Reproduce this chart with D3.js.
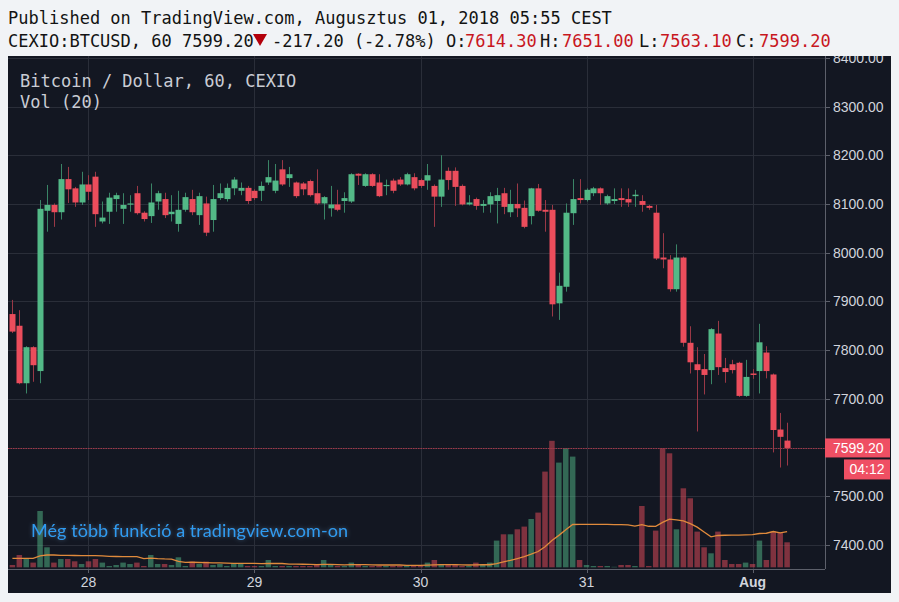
<!DOCTYPE html>
<html><head><meta charset="utf-8">
<script src="https://cdn.jsdelivr.net/npm/d3@7"></script>
<style>
html,body{margin:0;padding:0;background:#f1f3f6;}
svg{display:block;}
</style></head><body>
<svg id="c" width="899" height="602"></svg>
<script>
// ---- data (hourly bars, CEXIO BTC/USD, Jul 27 13:00 .. Aug 01 05:00 CEST) ----
const startTime = new Date(Date.UTC(2018, 6, 27, 13));
const endTime = new Date(Date.UTC(2018, 7, 1, 5));
const open = [7874,7850,7732,7806,7757,8086,8098,8083,8151,8132,8103,8140,8156,8064,8084,8110,8090,8099,8122,8082,
8075,8105,8110,8079,8059,8088,8110,8077,8101,8067,8112,8110,8132,8127,8133,8127,8127,8144,8127,8171,
8153,8144,8142,8147,8122,8101,8091,8099,8106,8105,8162,8137,8161,8144,8137,8148,8150,8140,8155,8149,
8148,8137,8115,8168,8168,8137,8099,8110,8096,8099,8106,8122,8083,8100,8092,8075,8132,8088,8088,7896,
7930,8081,8112,8108,8122,8132,8101,8106,8112,8110,8116,8106,8096,8082,7990,7986,7925,7990,7815,7771,
7761,7759,7834,7763,7771,7774,7706,7752,7757,7795,7750,7637,7614.3];
const high = [7903,7882,7808,7808,8108,8139,8101,8182,8176,8135,8166,8159,8166,8105,8123,8123,8122,8118,8137,8085,
8142,8127,8123,8118,8127,8123,8129,8123,8115,8139,8142,8142,8155,8144,8137,8130,8146,8190,8182,8190,
8176,8146,8145,8150,8171,8116,8137,8129,8124,8163,8163,8163,8163,8161,8150,8152,8155,8164,8163,8152,
8182,8140,8200,8175,8175,8140,8118,8113,8108,8124,8133,8133,8129,8142,8107,8133,8141,8108,8098,7959,
8101,8151,8151,8132,8135,8134,8119,8132,8132,8132,8129,8118,8098,8098,8040,7995,8017,7992,7849,7806,
7792,7845,7860,7784,7780,7776,7780,7761,7854,7808,7752,7671,7651];
const low = [7835,7730,7711,7735,7732,8043,8053,8068,8102,8094,8098,8108,8053,8060,8059,8084,8059,8084,8078,8064,
8061,8088,8071,8064,8043,8084,8077,8057,8034,8043,8108,8105,8118,8118,8100,8108,8106,8139,8122,8137,
8135,8112,8118,8115,8098,8068,8074,8085,8082,8102,8139,8135,8135,8114,8118,8122,8137,8138,8128,8133,
8129,8053,8094,8129,8096,8097,8097,8088,8082,8082,8060,8079,8073,8073,8050,8058,8084,8043,7869,7862,
7920,8057,8101,8105,8116,8098,8098,8100,8094,8094,8094,8084,8088,7985,7968,7920,7920,7807,7752,7633,
7709,7730,7749,7733,7752,7704,7704,7741,7711,7742,7590,7559,7563.1];
const close = [7838,7732,7806,7769,8090,8098,8083,8151,8130,8103,8140,8125,8079,8072,8113,8118,8098,8101,8081,8069,
8103,8122,8077,8084,8088,8114,8083,8116,8041,8110,8122,8133,8150,8133,8106,8112,8137,8155,8148,8140,
8161,8116,8130,8118,8101,8114,8099,8088,8112,8161,8158,8161,8137,8116,8139,8127,8140,8161,8132,8137,
8159,8115,8150,8149,8135,8099,8103,8096,8100,8116,8118,8094,8100,8091,8053,8132,8086,8084,7894,7932,
8082,8110,8108,8129,8132,8122,8116,8110,8108,8103,8119,8098,8092,7988,7986,7925,7990,7815,7775,7759,
7749,7843,7765,7755,7759,7706,7745,7749,7816,7757,7636,7622,7599.2];
const volume = [2.3,12.3,9,4.7,56.3,20,4.7,8.3,8.3,6,3.3,6,8.3,4.7,1.3,2.3,4.7,3.3,4.7,1.3,
12.3,3.3,3.3,2.3,10,1.3,5.7,3.3,5.7,2.3,3.3,1.3,4,4,1.3,1.3,1.3,7.3,1.3,1.3,
1.3,1.3,1.3,1.3,3.3,7.3,3.3,1.3,1.3,4.7,2.3,1.3,1.3,1.3,1.3,1.3,1.3,1.3,1.3,1.3,
4.7,7.3,3.3,3.3,3.3,1.3,1.3,4.7,3.3,4.7,26.7,33,33,38,40.7,48.3,54.7,95.7,126.5,104.7,
119,110.7,7.3,2.3,1.3,1.3,1.3,0.5,2.3,2.3,1.3,61.3,1.3,36.7,119,114,38,79,69,35.7,
20,14,35.7,7.3,3.3,3.3,4.7,3.3,26.7,7.3,35.7,34.7,25];
// Vol(20) average as read for the first bars (window reaches before the visible range)
const volMAStart = [9,9,9,9,11.5,12.3,12.3,12,12,11.8,11.7,11.7,11.7,11.5,11,10.8,10.7,10.7,10.7];
const priceTicks = [7400,7500,7600,7700,7800,7900,8000,8100,8200,8300,8400];
const dayTicks = [new Date(Date.UTC(2018,6,28)),new Date(Date.UTC(2018,6,29)),new Date(Date.UTC(2018,6,30)),new Date(Date.UTC(2018,6,31)),new Date(Date.UTC(2018,7,1))];
const dayLabels = ["28","29","30","31","Aug"];
const lastPrice = 7599.20;

// ---- layout ----
const svg = d3.select("#c");
const L = 8, R = 825, T = 56, B = 569, BGR = 891, BGB = 593;
const times = d3.utcHour.range(startTime, new Date(+endTime + 1));
const x = d3.scaleUtc().domain([startTime, endTime]).range([12.4, 12.4 + 112 * 6.917]);
const y = d3.scaleLinear().domain([7400, 8300]).range([545, 106.5]);
const base = 567.3;
const yVol = d3.scaleLinear().domain([0, d3.max(volume)]).range([base, base - 126.5]);

const up = "#53b987", dn = "#eb4d5c";
const upWick = "#3a8466", dnWick = "#9a3846";

const defs = svg.append("defs");
defs.append("clipPath").attr("id","plot").append("rect").attr("x",L).attr("y",T).attr("width",R-L).attr("height",B-T);
defs.append("clipPath").attr("id","axisR").append("rect").attr("x",R).attr("y",T).attr("width",BGR-R).attr("height",B-T);
const f = defs.append("filter").attr("id","glow").attr("x","-10%").attr("y","-50%").attr("width","120%").attr("height","200%");
f.append("feGaussianBlur").attr("in","SourceAlpha").attr("stdDeviation",2.2).attr("result","b");
f.append("feFlood").attr("flood-color","#6fa8dc").attr("flood-opacity",0.45).attr("result","c");
f.append("feComposite").attr("in","c").attr("in2","b").attr("operator","in").attr("result","s");
const m = f.append("feMerge"); m.append("feMergeNode").attr("in","s"); m.append("feMergeNode").attr("in","SourceGraphic");

// header
const mono = "'DejaVu Sans Mono', monospace";
svg.append("text").attr("x",8).attr("y",24).attr("font-family",mono).attr("font-size",17).attr("fill","#131313")
  .text("Published on TradingView.com, Augusztus 01, 2018 05:55 CEST");
const h2 = svg.append("text").attr("y",47).attr("font-family",mono).attr("font-size",17).attr("fill","#131313");
const red = "#c8171e";
[["CEXIO:BTCUSD, 60 7599.20",8,"#131313"],["-217.20 (-2.78%) O:",272,"#131313"],["7614.30",465,red],
 ["H:",540,"#131313"],["7651.00",562,red],["L:",639,"#131313"],["7563.10",660,red],["C:",736,"#131313"],["7599.20",759,red]]
 .forEach(([t,xx,c]) => h2.append("tspan").attr("x",xx).attr("fill",c).text(t));
svg.append("path").attr("d","M253,34 L267,34 L260,46 Z").attr("fill","#b3000c");

// background
svg.append("rect").attr("x",L).attr("y",T).attr("width",BGR-L).attr("height",BGB-T).attr("fill","#131722");

// grid
const grid = svg.append("g").attr("clip-path","url(#plot)");
grid.selectAll("line.h").data(priceTicks).join("line")
  .attr("x1",L).attr("x2",R).attr("y1",d=>Math.round(y(d))+0.5).attr("y2",d=>Math.round(y(d))+0.5)
  .attr("stroke","#2a2e39").attr("stroke-width",1);
grid.selectAll("line.v").data(dayTicks).join("line")
  .attr("y1",T).attr("y2",B).attr("x1",d=>Math.round(x(d))+0.5).attr("x2",d=>Math.round(x(d))+0.5)
  .attr("stroke","#2a2e39").attr("stroke-width",1);

// plot group
const g = svg.append("g").attr("clip-path","url(#plot)");
const bars = times.map((t,i)=>({t, o:open[i], h:high[i], l:low[i], c:close[i], v:volume[i], upBar: close[i] >= open[i]}));

// volume
g.selectAll("rect.vol").data(bars).join("rect")
  .attr("x",d=>x(d.t)-2.75).attr("width",5.5)
  .attr("y",d=>yVol(d.v)).attr("height",d=>base-yVol(d.v))
  .attr("fill",d=>d.upBar ? "rgba(83,185,135,0.5)" : "rgba(235,77,92,0.5)");

// volume MA(20)
const ma = volume.map((v,i)=> i < volMAStart.length ? volMAStart[i] : d3.mean(volume.slice(i-19,i+1)));
g.append("path").datum(bars.map((d,i)=>({t:d.t, m:ma[i]})))
  .attr("d", d3.line().x(d=>x(d.t)).y(d=>yVol(d.m)))
  .attr("fill","none").attr("stroke","#e08a3c").attr("stroke-width",1.3);

// last price line
g.append("line").attr("x1",L).attr("x2",R).attr("y1",Math.round(y(lastPrice))+0.5).attr("y2",Math.round(y(lastPrice))+0.5)
  .attr("stroke","#a33547").attr("stroke-width",1.2).attr("stroke-dasharray","1.5 1");

// candles
g.selectAll("line.wick").data(bars).join("line")
  .attr("x1",d=>Math.round(x(d.t))+0.5).attr("x2",d=>Math.round(x(d.t))+0.5)
  .attr("y1",d=>y(d.h)).attr("y2",d=>y(d.l))
  .attr("stroke",d=>d.upBar?upWick:dnWick).attr("stroke-width",1);
g.selectAll("rect.body").data(bars).join("rect")
  .attr("x",d=>Math.round(x(d.t))-2.5).attr("width",6)
  .attr("y",d=>y(Math.max(d.o,d.c)))
  .attr("height",d=>Math.max(1.2, Math.abs(y(d.o)-y(d.c))))
  .attr("fill",d=>d.upBar?up:dn);

// axes lines
svg.append("line").attr("x1",R+0.5).attr("x2",R+0.5).attr("y1",T).attr("y2",B).attr("stroke","#5d606b");
svg.append("line").attr("x1",L).attr("x2",R).attr("y1",B+0.5).attr("y2",B+0.5).attr("stroke","#5d606b");

// right axis
const ax = svg.append("g").attr("clip-path","url(#axisR)");
const sans = "'Liberation Sans', Arial, sans-serif";
ax.selectAll("line.t").data(priceTicks).join("line")
  .attr("x1",R).attr("x2",R+5).attr("y1",d=>Math.round(y(d))+0.5).attr("y2",d=>Math.round(y(d))+0.5)
  .attr("stroke","#5d606b");
ax.selectAll("text").data(priceTicks).join("text")
  .attr("x",833).attr("y",d=>y(d)+5).attr("font-family",sans).attr("font-size",14).attr("fill","#d1d4dc")
  .text(d=>d3.format(".2f")(d));

// last price label
const yl = y(lastPrice);
svg.append("rect").attr("x",R).attr("y",yl-9.5).attr("width",65).attr("height",19).attr("fill","#ef4f63");
svg.append("text").attr("x",833).attr("y",yl+5).attr("font-family",sans).attr("font-size",14).attr("fill","#ffffff").text("7599.20");
svg.append("rect").attr("x",844).attr("y",yl+11.5).attr("width",46).attr("height",20).attr("fill","#ef4f63");
svg.append("text").attr("x",867).attr("y",yl+26.5).attr("text-anchor","middle").attr("font-family",sans).attr("font-size",14).attr("fill","#ffffff").text("04:12");

// time axis
svg.selectAll("line.xt").data(dayTicks).join("line")
  .attr("x1",d=>Math.round(x(d))+0.5).attr("x2",d=>Math.round(x(d))+0.5).attr("y1",B).attr("y2",B+4).attr("stroke","#5d606b");
svg.selectAll("text.xl").data(dayTicks).join("text")
  .attr("x",d=>x(d)).attr("y",587).attr("text-anchor","middle").attr("font-family",sans).attr("font-size",14)
  .attr("font-weight",(d,i)=>dayLabels[i]==="Aug"?"bold":"normal")
  .attr("fill","#d1d4dc").text((d,i)=>dayLabels[i]);

// legend
svg.append("text").attr("x",20).attr("y",87).attr("font-family",mono).attr("font-size",17).attr("fill","#c9ccd4").text("Bitcoin / Dollar, 60, CEXIO");
svg.append("text").attr("x",20).attr("y",108).attr("font-family",mono).attr("font-size",17).attr("fill","#c9ccd4").text("Vol (20)");

// watermark
svg.append("text").attr("x",31).attr("y",537).attr("font-family","Lato, 'Open Sans', sans-serif").attr("font-size",18)
  .attr("textLength",317).attr("lengthAdjust","spacing")
  .attr("fill","#2f9bf0").attr("filter","url(#glow)").text("Még több funkció a tradingview.com-on");
</script>
</body></html>
